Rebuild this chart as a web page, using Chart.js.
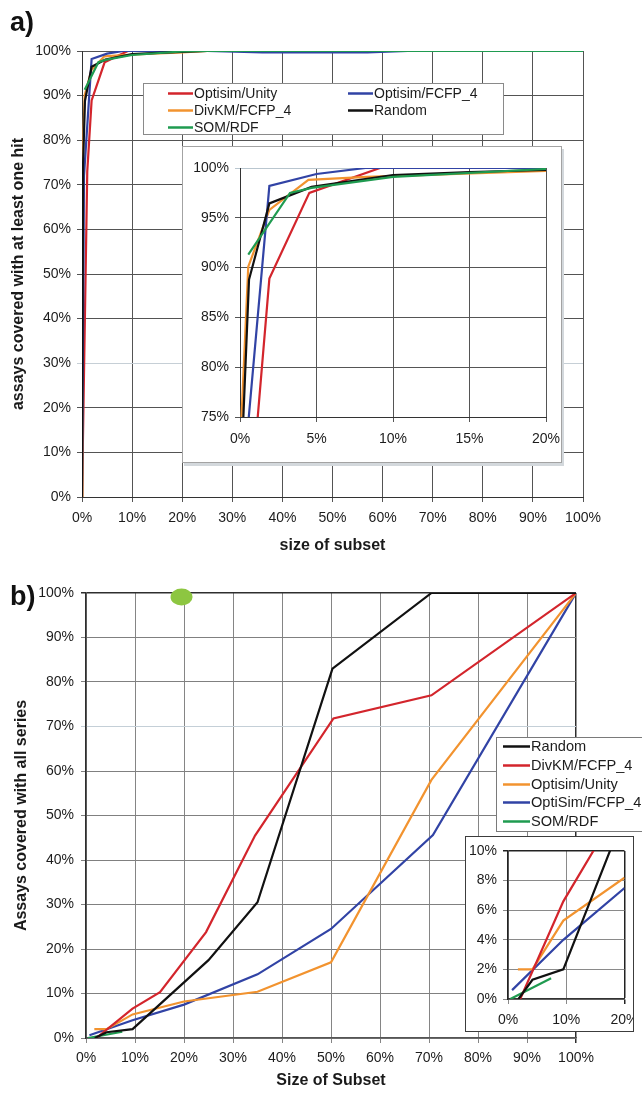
<!DOCTYPE html>
<html>
<head>
<meta charset="utf-8">
<script src="https://cdn.jsdelivr.net/npm/chart.js@4.4.1/dist/chart.umd.min.js"></script>
<style>
  html, body { margin: 0; padding: 0; background: #fff; }
  #page { position: relative; width: 642px; height: 1093px; overflow: hidden;
          font-family: 'Liberation Sans', Arial, Helvetica, sans-serif; }
  canvas { position: absolute; display: block; }
  .inset { background: #fff; }
  .tag { position: absolute; font-weight: bold; font-size: 27px; color: #111; line-height: 32px; }
</style>
</head>
<body>
<div id="page">
  <canvas id="mainA" width="642" height="560" style="left:0;top:0"></canvas>
  <canvas id="insetA" class="inset" width="378" height="315"
          style="left:183px;top:147px;box-shadow:0 0 0 1px #a3a3a3, 2px 3px 0 1px #d3d8dc"></canvas>
  <canvas id="mainB" width="642" height="533" style="left:0;top:560px"></canvas>
  <canvas id="insetB" class="inset" width="167" height="194"
          style="left:466px;top:837px;box-shadow:0 0 0 1px #3c3c3c"></canvas>
  <div class="tag" style="left:10px;top:6px">a)</div>
  <div class="tag" style="left:10px;top:580px">b)</div>
</div>
<script>
// ---- a) assays covered with at least one hit (x: size of subset %, y: coverage %) ----
const aNames   = ['Optisim/Unity', 'Optisim/FCFP_4', 'DivKM/FCFP_4', 'Random', 'SOM/RDF'];
const aUnityX  = [0, 1.05, 1.92, 4.53, 9.15, 20, 100];
const aUnityY  = [0, 73, 88.9, 97.5, 100, 100, 100];
const aFcfpX   = [0, 0.4, 1.92, 5.0, 8.2, 25, 36, 57, 65, 100];
const aFcfpY   = [0, 72, 98.2, 99.4, 100, 100, 99.7, 99.7, 100, 100];
const aDivkmX  = [0, 0.1, 0.54, 1.92, 4.47, 8.3, 20, 25, 100];
const aDivkmY  = [0, 75, 90.1, 95.8, 98.8, 99.1, 99.7, 100, 100];
const aRandomX = [0, 0.22, 0.59, 1.92, 4.68, 10, 15, 20, 25, 100];
const aRandomY = [0, 75, 88.8, 96.45, 98.1, 99.3, 99.6, 99.8, 100, 100];
const aSomX    = [0.54, 3.27, 4.68, 10, 20, 25, 100];
const aSomY    = [91.3, 97.5, 98.0, 99.1, 99.9, 100, 100];

// ---- b) assays covered with all series ----
const bNames   = ['Random', 'DivKM/FCFP_4', 'Optisim/Unity', 'OptiSim/FCFP_4', 'SOM/RDF'];
const bRandomX = [1.8, 4.2, 9.5, 25, 35, 50.3, 70.5, 100];
const bRandomY = [0, 1.3, 2, 17.5, 30.5, 83, 100, 100];
const bDivkmX  = [2.1, 9.5, 15.1, 24.5, 34.5, 50.5, 70.5, 100];
const bDivkmY  = [0, 6.6, 10.3, 23.8, 45.5, 71.8, 77, 100];
const bUnityX  = [1.7, 4.2, 9.5, 20, 35, 50, 70.5, 100];
const bUnityY  = [2, 2, 5.3, 8.2, 10.4, 17, 58, 100];
const bFcfpX   = [0.7, 9.5, 20, 35, 50, 70.8, 100];
const bFcfpY   = [0.6, 4, 7.5, 14.3, 24.5, 45.6, 100];
const bSomX    = [0.4, 7.4];
const bSomY    = [0, 1.4];
const bMarkX   = [19.5];
const bMarkY   = [99.1];

// axis ranges: [min, max, step]
const aMainX = [0, 100, 10],  aMainY = [0, 100, 10];
const aZoomX = [0, 20, 5],    aZoomY = [75, 100, 5];
const bMainX = [0, 100, 10],  bMainY = [0, 100, 10];
const bZoomX = [0, 20, 10],   bZoomY = [0, 10, 2];

const FONT = "'Liberation Sans', Arial, Helvetica, sans-serif";
Chart.defaults.font.family = FONT;
Chart.defaults.font.size = 14;
Chart.defaults.color = '#1c1c1c';

const RED = '#d3252c', ORANGE = '#f2932f', GREEN = '#1f9b50', BLUE = '#3143a5', BLACK = '#111111';

const pts = (xs, ys) => xs.map((x, i) => ({ x, y: ys[i] }));
const line = (label, xs, ys, color, order) => ({
  label, data: pts(xs, ys), borderColor: color, backgroundColor: color,
  borderWidth: 2.2, pointRadius: 0, tension: 0, order
});

function aSeries() {
  return [
    line(aNames[0], aUnityX, aUnityY, RED, 4),
    line(aNames[1], aFcfpX, aFcfpY, BLUE, 2),
    line(aNames[2], aDivkmX, aDivkmY, ORANGE, 3),
    line(aNames[3], aRandomX, aRandomY, BLACK, 1),
    line(aNames[4], aSomX, aSomY, GREEN, 0)
  ];
}
function bSeries() {
  return [
    line(bNames[0], bRandomX, bRandomY, BLACK, 0),
    line(bNames[1], bDivkmX, bDivkmY, RED, 1),
    line(bNames[2], bUnityX, bUnityY, ORANGE, 2),
    line(bNames[3], bFcfpX, bFcfpY, BLUE, 3),
    line(bNames[4], bSomX, bSomY, GREEN, 4)
  ];
}

// legend drawn inside a framed white box
function boxLegend(box) {
  return {
    id: 'boxLegend',
    afterDatasetsDraw(chart) {
      const ctx = chart.ctx;
      ctx.save();
      ctx.fillStyle = '#fff';
      ctx.fillRect(box.x, box.y, box.w, box.h);
      ctx.strokeStyle = box.border;
      ctx.lineWidth = 1;
      ctx.strokeRect(box.x + 0.5, box.y + 0.5, box.w, box.h);
      ctx.font = box.fontSize + 'px ' + FONT;
      ctx.textBaseline = 'middle';
      ctx.textAlign = 'left';
      box.columns.forEach((col, ci) => col.forEach((name, ri) => {
        const ds = chart.data.datasets.find(d => d.label === name);
        const sx = box.x + box.colX[ci];
        const sy = Math.round(box.y + box.row0 + ri * box.rowH) + 0.5;
        ctx.strokeStyle = ds.borderColor;
        ctx.lineWidth = 2.5;
        ctx.beginPath();
        ctx.moveTo(sx, sy);
        ctx.lineTo(sx + box.sample, sy);
        ctx.stroke();
        ctx.fillStyle = '#1c1c1c';
        ctx.fillText(ds.label, sx + box.sample + 1, sy + 0.5);
      }));
      ctx.restore();
    }
  };
}

// filled ellipse placed at data coordinates
function highlight(xs, ys, color, rx, ry) {
  return {
    id: 'highlight',
    afterDraw(chart) {
      const { ctx, scales } = chart;
      ctx.save();
      ctx.fillStyle = color;
      xs.forEach((x, i) => {
        ctx.beginPath();
        ctx.ellipse(scales.x.getPixelForValue(x), scales.y.getPixelForValue(ys[i]), rx, ry, 0, 0, Math.PI * 2);
        ctx.fill();
      });
      ctx.restore();
    }
  };
}

function makeChart(id, datasets, g, plugins) {
  const title = (text, pad) => text
    ? { display: true, text, font: { size: 16, weight: 'bold' }, color: '#1a1a1a', padding: pad }
    : { display: false };
  return new Chart(document.getElementById(id), {
    type: 'line',
    data: { datasets },
    options: {
      responsive: false, animation: false, devicePixelRatio: 1, events: [],
      layout: { padding: { left: 0, top: g.top, right: g.right, bottom: 0 } },
      plugins: { legend: { display: false }, tooltip: { enabled: false } },
      scales: {
        x: {
          type: 'linear', min: g.xr[0], max: g.xr[1],
          ticks: { stepSize: g.xr[2], callback: v => v + '%', maxRotation: 0, autoSkip: false,
                   padding: g.xPad, color: '#1c1c1c' },
          grid: { color: c => g.gridX(c.tick.value), lineWidth: c => g.gridXW ? g.gridXW(c.tick.value) : 1,
                  tickLength: 5, drawTicks: true },
          border: { color: g.borderX, width: g.borderW || 1 },
          title: title(g.xTitle, { top: 0, bottom: g.xTitlePad }),
          afterFit: s => { s.height = g.xH; s.paddingLeft = 0; s.paddingRight = 0; }
        },
        y: {
          type: 'linear', min: g.yr[0], max: g.yr[1],
          ticks: { stepSize: g.yr[2], callback: v => v + '%', padding: g.yPad, color: '#1c1c1c' },
          grid: { color: c => g.gridY(c.tick.value), lineWidth: c => g.gridYW ? g.gridYW(c.tick.value) : 1,
                  tickLength: 5, drawTicks: true },
          border: { color: g.borderY, width: g.borderW || 1 },
          title: title(g.yTitle, { top: g.yTitlePad, bottom: 0 }),
          afterFit: s => { s.width = g.yW; s.paddingTop = 0; s.paddingBottom = 0; }
        }
      }
    },
    plugins: plugins || []
  });
}

// a) main plot
makeChart('mainA', aSeries(), {
  top: 51, right: 59, yW: 82, xH: 63,
  xr: aMainX, yr: aMainY, xPad: 7.6, yPad: 6,
  gridX: () => '#545454',
  gridY: v => v === 30 ? '#c6cfd6' : '#545454',
  borderX: '#333', borderY: '#333',
  xTitle: 'size of subset', xTitlePad: 4.4,
  yTitle: 'assays covered with at least one hit', yTitlePad: 8.7
}, [boxLegend({
  x: 143, y: 83, w: 360, h: 51, border: '#8a8a8a', fontSize: 14,
  colX: [25, 205], sample: 25, row0: 10.3, rowH: 16.7,
  columns: [[aNames[0], aNames[2], aNames[4]], [aNames[1], aNames[3]]]
})]);

// a) zoom on the first 20 %
makeChart('insetA', aSeries(), {
  top: 21, right: 15, yW: 57, xH: 45,
  xr: aZoomX, yr: aZoomY, xPad: 9, yPad: 6,
  gridX: () => '#555',
  gridY: v => v === 100 ? '#b9c6cf' : '#555',
  borderX: '#333', borderY: '#333'
});

// b) main plot
makeChart('mainB', bSeries(), {
  top: 33, right: 66, yW: 86, xH: 55,
  xr: bMainX, yr: bMainY, xPad: 6.6, yPad: 7,
  gridX: v => v === 100 ? '#2e2e2e' : '#858585',
  gridXW: v => v === 100 ? 1.5 : 1,
  gridY: v => v === 100 ? '#2e2e2e' : (v === 70 ? '#c4cfd7' : '#808080'),
  gridYW: v => v === 100 ? 1.5 : 1,
  borderX: '#555', borderY: '#2e2e2e', borderW: 1.5,
  xTitle: 'Size of Subset', xTitlePad: 2.4,
  yTitle: 'Assays covered with all series', yTitlePad: 12.4
}, [boxLegend({
  x: 496, y: 177, w: 170, h: 94, border: '#7a7a7a', fontSize: 14.6,
  colX: [7], sample: 27, row0: 9.3, rowH: 18.7,
  columns: [bNames]
}), highlight(bMarkX, bMarkY, '#8dc641', 11, 8.5)]);

// b) zoom on the first 20 %
makeChart('insetB', bSeries(), {
  top: 14, right: 8.5, yW: 42, xH: 32,
  xr: bZoomX, yr: bZoomY, xPad: 7.6, yPad: 6,
  gridX: v => v === 20 ? '#222' : '#8a8a8a',
  gridXW: v => v === 20 ? 1.5 : 1,
  gridY: v => v === 10 ? '#222' : '#8a8a8a',
  gridYW: v => v === 10 ? 1.5 : 1,
  borderX: '#333', borderY: '#222', borderW: 1.5
});
</script>
</body>
</html>
